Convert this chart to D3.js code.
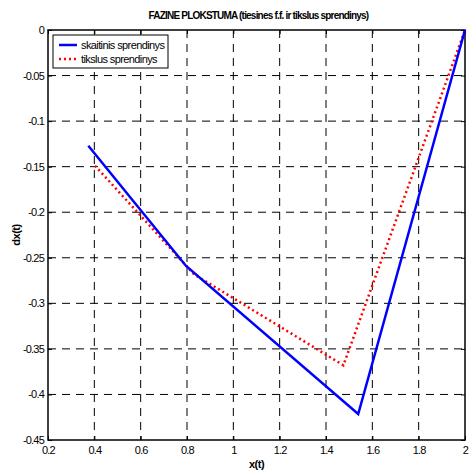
<!DOCTYPE html>
<html>
<head>
<meta charset="utf-8">
<script src="https://cdn.jsdelivr.net/npm/d3@7"></script>
<style>
  body { margin: 0; background: #fff; }
  text { font-family: "Liberation Sans", Arial, sans-serif; }
</style>
</head>
<body>
<div id="chart"></div>
<script>
// series data
const numX = [0.374, 0.796, 1.539, 2.0];
const numY = [-0.127, -0.259, -0.4215, 0.0];
const exactX = [0.403, 0.83, 1.475, 2.0];
const exactY = [-0.149, -0.268, -0.368, 0.0];
const xTicks = [0.2, 0.4, 0.6, 0.8, 1, 1.2, 1.4, 1.6, 1.8, 2];
const yTicks = [0, -0.05, -0.1, -0.15, -0.2, -0.25, -0.3, -0.35, -0.4, -0.45];
const seriesNames = ["skaitinis sprendinys", "tikslus sprendinys"];

const width = 469, height = 471;
const margin = { top: 30, right: 4, bottom: 31, left: 48 };

const svg = d3.select("#chart").append("svg")
  .attr("width", width)
  .attr("height", height);

const x = d3.scaleLinear().domain([0.2, 2]).range([margin.left, width - margin.right]);
const y = d3.scaleLinear().domain([-0.45, 0]).range([height - margin.bottom, margin.top]);

const fmt = d => String(d).replace("0.", ".").replace(/^\./, "0.").replace("-.", "-0.");

// grid
svg.append("g").selectAll("line.gx")
  .data(xTicks.slice(1, -1)).enter().append("line")
  .attr("x1", d => x(d)).attr("x2", d => x(d))
  .attr("y1", y(0)).attr("y2", y(-0.45))
  .attr("stroke", "#000").attr("stroke-width", 1)
  .attr("stroke-dasharray", "8,6");
svg.append("g").selectAll("line.gy")
  .data(yTicks.slice(1, -1)).enter().append("line")
  .attr("y1", d => y(d)).attr("y2", d => y(d))
  .attr("x1", x(0.2)).attr("x2", x(2))
  .attr("stroke", "#000").attr("stroke-width", 1)
  .attr("stroke-dasharray", "8,6");

// axes with inward ticks
const xAxis = svg.append("g")
  .attr("transform", `translate(0,${y(-0.45)})`)
  .call(d3.axisBottom(x).tickValues(xTicks).tickSize(-4).tickPadding(6).tickFormat(d => String(d)));
const xTop = svg.append("g")
  .attr("transform", `translate(0,${y(0)})`)
  .call(d3.axisTop(x).tickValues(xTicks).tickSize(-4).tickFormat(""));
const yAxis = svg.append("g")
  .attr("transform", `translate(${x(0.2)},0)`)
  .call(d3.axisLeft(y).tickValues(yTicks).tickSize(-4).tickPadding(4).tickFormat(d => String(d)));
const yRight = svg.append("g")
  .attr("transform", `translate(${x(2)},0)`)
  .call(d3.axisRight(y).tickValues(yTicks).tickSize(-4).tickFormat(""));

[xAxis, xTop, yAxis, yRight].forEach(g => {
  g.select(".domain").remove();
  g.selectAll("line").attr("stroke", "#000");
  g.selectAll("text")
    .attr("fill", "#000")
    .style("font-size", "11px")
    .style("letter-spacing", "-0.8px");
});

// box
svg.append("rect")
  .attr("x", x(0.2)).attr("y", y(0))
  .attr("width", x(2) - x(0.2)).attr("height", y(-0.45) - y(0))
  .attr("fill", "none").attr("stroke", "#000").attr("stroke-width", 1.5);

const line = d3.line().x(d => x(d[0])).y(d => y(d[1]));

svg.append("path")
  .datum(exactX.map((v, i) => [v, exactY[i]]))
  .attr("d", line)
  .attr("fill", "none").attr("stroke", "#ff0000").attr("stroke-width", 2.5)
  .attr("stroke-dasharray", "2,3");

svg.append("path")
  .datum(numX.map((v, i) => [v, numY[i]]))
  .attr("d", line)
  .attr("fill", "none").attr("stroke", "#0000ff").attr("stroke-width", 2.5);

// legend
const lg = svg.append("g").attr("transform", "translate(53,35)");
lg.append("rect").attr("width", 115).attr("height", 33)
  .attr("fill", "#fff").attr("stroke", "#000").attr("stroke-width", 1);
lg.append("line").attr("x1", 6).attr("x2", 24).attr("y1", 10).attr("y2", 10)
  .attr("stroke", "#0000ff").attr("stroke-width", 2.5);
lg.append("line").attr("x1", 6).attr("x2", 24).attr("y1", 24).attr("y2", 24)
  .attr("stroke", "#ff0000").attr("stroke-width", 2.5).attr("stroke-dasharray", "2,3");
lg.selectAll("text.lt").data(seriesNames).enter().append("text")
  .attr("x", 28).attr("y", (d, i) => 14 + i * 14)
  .style("font-size", "11px").style("letter-spacing", "-0.6px")
  .text(d => d);

// title and axis labels
svg.append("text")
  .attr("x", (x(0.2) + x(2)) / 2 + 2).attr("y", 19)
  .attr("text-anchor", "middle")
  .style("font-size", "10px").style("font-weight", "bold").style("letter-spacing", "-0.8px")
  .text("FAZINE PLOKSTUMA (tiesines f.f. ir tikslus sprendinys)");
svg.append("text")
  .attr("x", (x(0.2) + x(2)) / 2).attr("y", 468)
  .attr("text-anchor", "middle")
  .style("font-size", "11px").style("font-weight", "bold").style("letter-spacing", "-0.5px")
  .text("x(t)");
svg.append("text")
  .attr("transform", `translate(20,${(y(0) + y(-0.45)) / 2}) rotate(-90)`)
  .attr("text-anchor", "middle")
  .style("font-size", "11px").style("font-weight", "bold").style("letter-spacing", "-0.5px")
  .text("dx(t)");
</script>
</body>
</html>
